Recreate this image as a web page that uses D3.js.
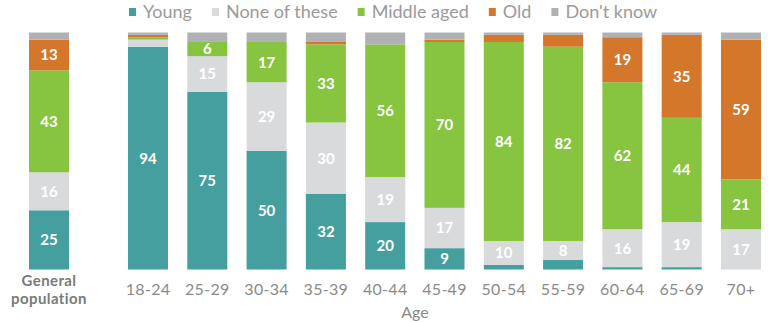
<!DOCTYPE html>
<html>
<head>
<meta charset="utf-8">
<script src="https://cdn.jsdelivr.net/npm/d3@7/dist/d3.min.js"></script>
<style>
  html, body { margin: 0; padding: 0; background: #fff; }
  svg { display: block; font-family: Lato, "Open Sans", sans-serif; }
</style>
</head>
<body>
<svg id="chart" width="768" height="322"></svg>
<script>
const seriesNames = ["Young", "None of these", "Middle aged", "Old", "Don't know"];
const seriesColors = ["#459f9f", "#d9dadc", "#87c440", "#d5772b", "#b0b1b5"];

const generalLabel = "General population";
const generalValues = [25, 16, 43, 13, 3];

const ageGroups = ["18-24", "25-29", "30-34", "35-39", "40-44", "45-49", "50-54", "55-59", "60-64", "65-69", "70+"];
const young      = [94, 75, 50, 32, 20,  9,  2,  4,  1,  1,  0];
const noneOfThese= [ 3, 15, 29, 30, 19, 17, 10,  8, 16, 19, 17];
const middleAged = [ 1,  6, 17, 33, 56, 70, 84, 82, 62, 44, 21];
const old        = [ 1,  0,  0,  1,  0,  1,  3,  5, 19, 35, 59];
const dontKnow   = [ 1,  4,  4,  4,  5,  3,  1,  1,  2,  1,  3];
const axisTitle = "Age";

const seriesArrays = [young, noneOfThese, middleAged, old, dontKnow];
const rows = ageGroups.map((g, i) => {
  const r = { group: g };
  seriesNames.forEach((s, k) => r[s] = seriesArrays[k][i]);
  return r;
});
const genRow = { group: generalLabel };
seriesNames.forEach((s, k) => genRow[s] = generalValues[k]);

const svg = d3.select("#chart");

const y = d3.scaleLinear().domain([0, 100]).range([269.5, 32.5]);
const x = d3.scaleBand().domain(ageGroups).range([128, 761]).paddingInner(0.325).paddingOuter(0);
const xg = d3.scaleBand().domain([generalLabel]).range([29, 69]).padding(0);
const color = d3.scaleOrdinal().domain(seriesNames).range(seriesColors);

const stack = d3.stack().keys(seriesNames);
const stackedAges = stack(rows);
const stackedGen = stack([genRow]);

function drawBars(stacked, xs) {
  const g = svg.append("g");
  stacked.forEach(layer => {
    const key = layer.key;
    g.selectAll(null).data(layer).enter().append("rect")
      .attr("x", d => xs(d.data.group))
      .attr("width", xs.bandwidth())
      .attr("y", d => y(d[1]))
      .attr("height", d => Math.max(0, y(d[0]) - y(d[1])))
      .attr("fill", color(key));
    g.selectAll(null).data(layer.filter(d => (d[1] - d[0]) >= 6 && key !== "Don't know")).enter().append("text")
      .attr("x", d => xs(d.data.group) + xs.bandwidth() / 2)
      .attr("y", d => (y(d[0]) + y(d[1])) / 2)
      .attr("dy", "0.36em")
      .attr("text-anchor", "middle")
      .attr("fill", "#fff")
      .attr("font-weight", "bold")
      .attr("font-size", 15)
      .text(d => d[1] - d[0]);
  });
}
drawBars(stackedGen, xg);
drawBars(stackedAges, x);

// x axis for age groups
const axis = svg.append("g")
  .attr("transform", "translate(0,278)")
  .call(d3.axisBottom(x).tickSize(0).tickPadding(6));
axis.select(".domain").remove();
axis.selectAll("text")
  .attr("font-family", "Lato, sans-serif")
  .attr("font-size", 16)
  .attr("letter-spacing", 0.3)
  .attr("fill", "#8a8a8a");

// general population label (two lines)
generalLabel.split(" ").forEach((w, i) => {
  svg.append("text")
    .attr("x", xg(generalLabel) + xg.bandwidth() / 2)
    .attr("y", 286 + i * 18)
    .attr("text-anchor", "middle")
    .attr("font-weight", "bold")
    .attr("font-size", 15)
    .attr("letter-spacing", 0.4)
    .attr("fill", "#7a7a7a")
    .text(w);
});

svg.append("text")
  .attr("x", 415).attr("y", 318)
  .attr("text-anchor", "middle")
  .attr("font-size", 16)
  .attr("fill", "#8a8a8a")
  .text(axisTitle);

// legend
const legend = svg.append("g");
let lx = 129;
seriesNames.forEach((s, i) => {
  legend.append("rect").attr("x", lx).attr("y", 8).attr("width", 7).attr("height", 8).attr("fill", color(s));
  const t = legend.append("text").attr("x", lx + 14).attr("y", 18)
    .attr("font-size", 18).attr("fill", "#9a9a9a").text(s);
  lx += 14 + t.node().getComputedTextLength() + 20;
});
</script>
</body>
</html>
